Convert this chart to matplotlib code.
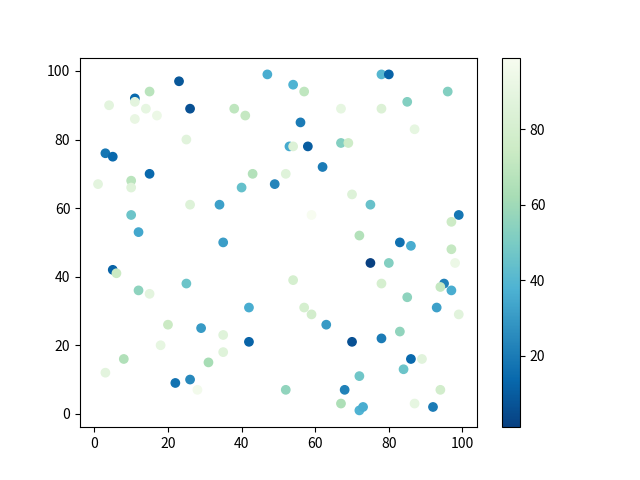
import matplotlib
matplotlib.use("Agg")
import matplotlib.pyplot as plt

plt.rcParams['font.family'] = ['Noto Sans CJK SC', 'DejaVu Sans']

x = [23, 26, 11, 11, 15, 4, 14, 17, 11, 47,
     38, 41, 25, 3, 5, 15, 43, 1, 10, 10,
     49, 40, 26, 34, 10, 12, 35, 54, 57, 78,
     80, 96, 85, 67, 78, 56, 87, 53, 54, 58,
     67, 69, 62, 52, 70, 75, 59, 99, 97, 72,
     83, 86, 97, 75, 80, 98, 5, 6, 12, 15,
     25, 42, 20, 29, 35, 18, 42, 35, 8, 31,
     3, 26, 22, 28, 54, 78, 95, 94, 97, 85,
     57, 59, 93, 99, 63, 83, 70, 78, 86, 89,
     84, 72, 52, 68, 94, 67, 87, 92, 72, 73]
y = [97, 89, 92, 91, 94, 90, 89, 87, 86, 99,
     89, 87, 80, 76, 75, 70, 70, 67, 68, 66,
     67, 66, 61, 61, 58, 53, 50, 96, 94, 99,
     99, 94, 91, 89, 89, 85, 83, 78, 78, 78,
     79, 79, 72, 70, 64, 61, 58, 58, 56, 52,
     50, 49, 48, 44, 44, 44, 42, 41, 36, 35,
     38, 31, 26, 25, 23, 20, 21, 18, 16, 15,
     12, 10, 9, 7, 39, 38, 38, 37, 36, 34,
     31, 29, 31, 29, 26, 24, 21, 22, 16, 16,
     13, 11, 7, 7, 7, 3, 3, 2, 1, 2]
c = [8, 6, 14, 88, 68, 88, 90, 93, 91, 36,
     70, 72, 87, 18, 14, 14, 66, 88, 68, 86,
     23, 44, 85, 32, 46, 34, 31, 38, 70, 40,
     12, 52, 52, 90, 84, 20, 90, 35, 84, 10,
     52, 76, 20, 86, 85, 45, 99, 18, 75, 66,
     16, 36, 72, 1, 52, 93, 12, 74, 55, 88,
     46, 36, 74, 30, 86, 90, 12, 86, 65, 62,
     88, 24, 17, 96, 80, 80, 22, 72, 36, 55,
     80, 78, 32, 87, 30, 56, 6, 20, 14, 87,
     46, 47, 56, 22, 78, 64, 90, 20, 38, 36]

fig, ax = plt.subplots(figsize=(6.4, 4.8), dpi=100)
sc = ax.scatter(x, y, c=c, cmap='GnBu_r')
fig.colorbar(sc, ax=ax)
fig.savefig('out.png')
